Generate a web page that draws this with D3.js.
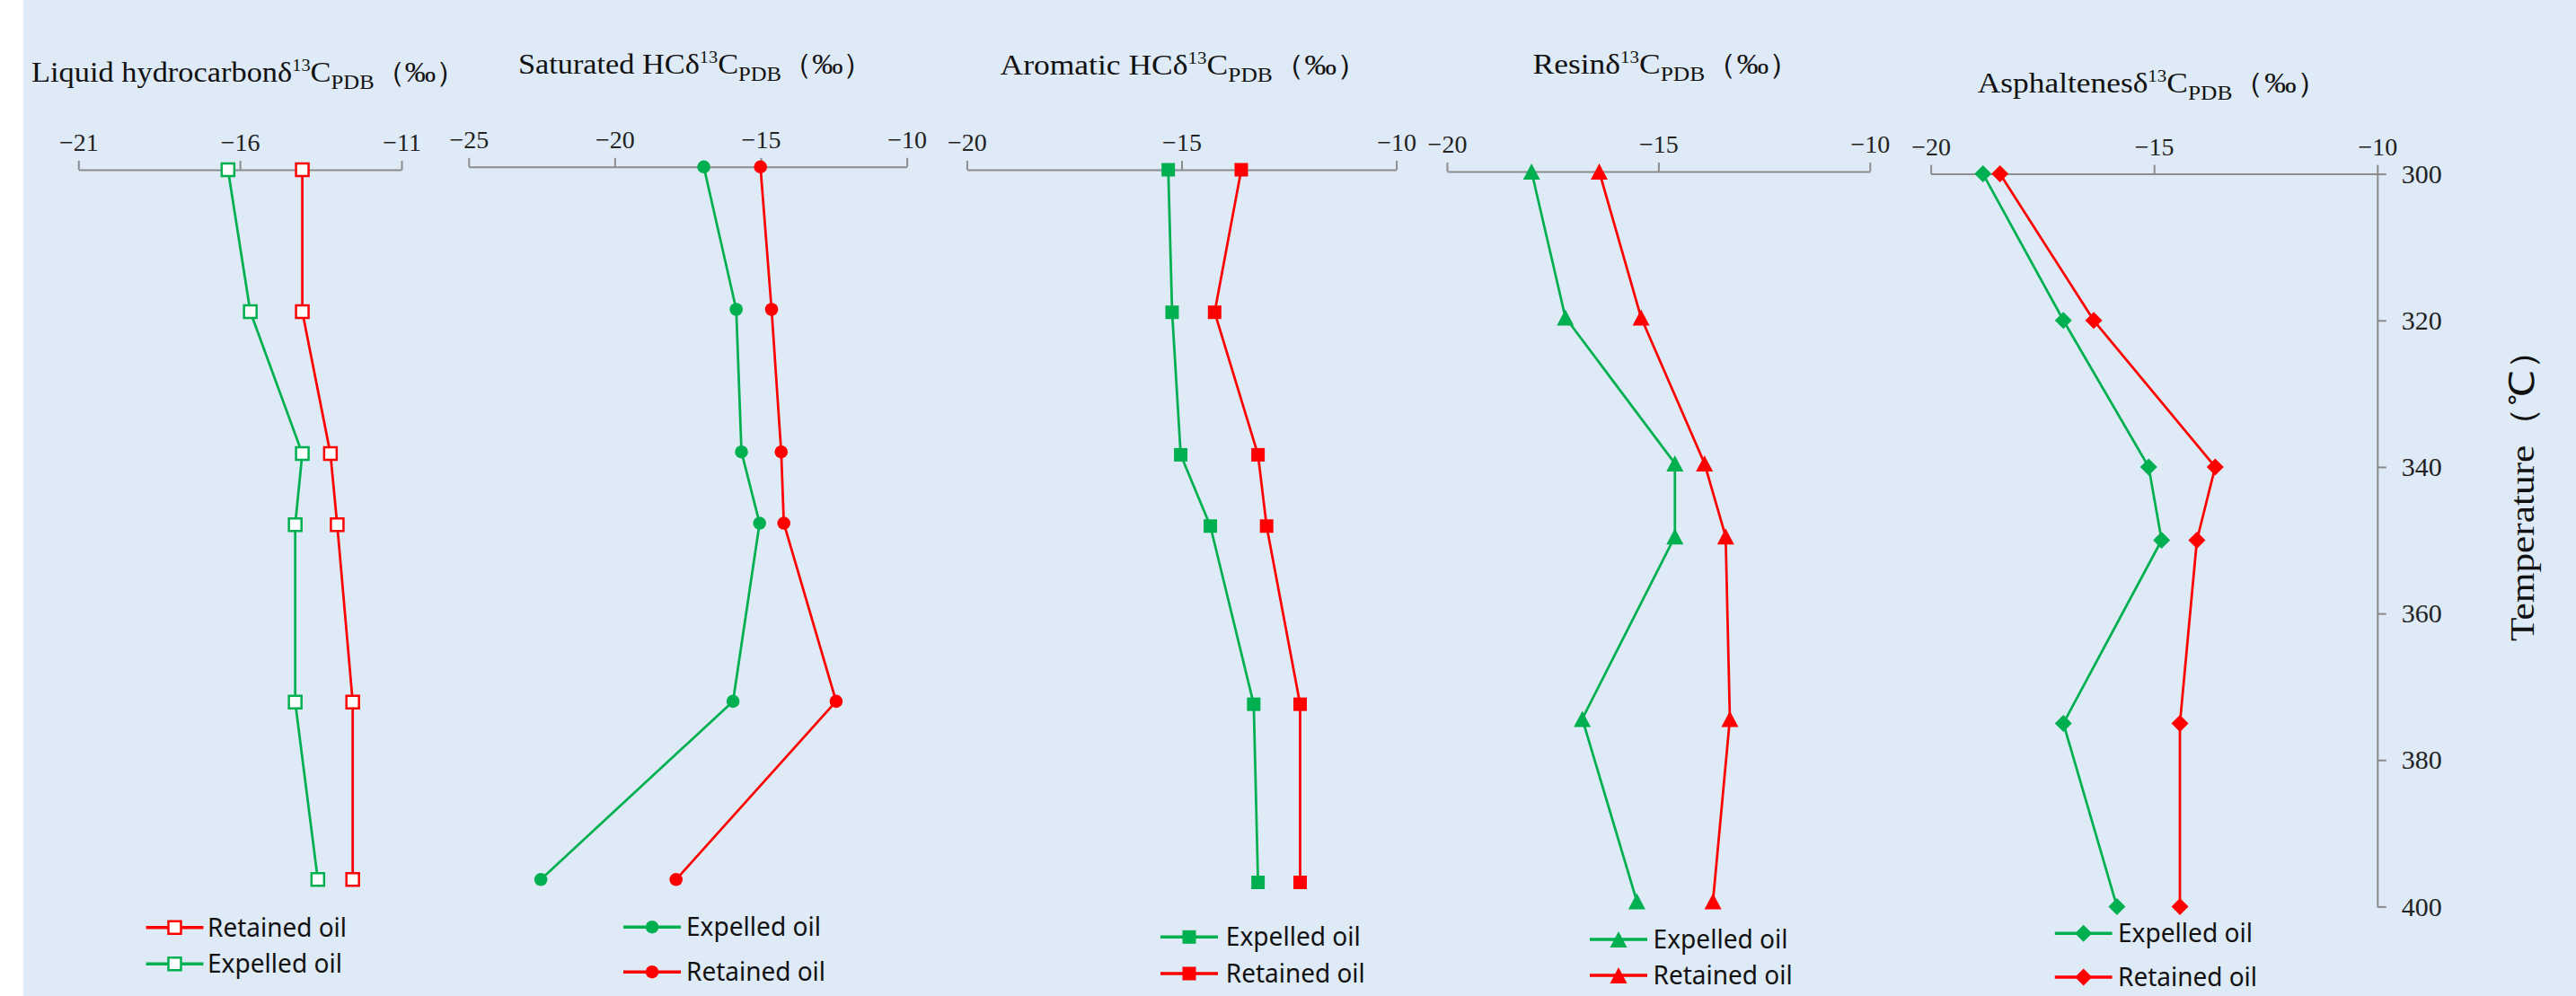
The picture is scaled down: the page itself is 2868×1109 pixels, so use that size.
<!DOCTYPE html>
<html lang="en">
<head>
    <meta charset="UTF-8">
    <title>δ13C of fractions vs temperature</title>
    <script src="https://cdn.jsdelivr.net/npm/d3@7"></script>
    <style>
        body { margin: 0; background: #fff; }
        svg { display: block; }
        .title { font-family: "Liberation Serif", "Times New Roman", serif; fill: #111; }
        .legend-label { font-family: "Noto Sans", "Open Sans", sans-serif; fill: #111; }
    </style>
</head>
<body>
<svg id="chart" width="2868" height="1109"></svg>
<script>
    // temperatures of the pyrolysis steps (°C)
    const temps = [300, 320, 340, 350, 375, 400];
    const tempTicks = [300, 320, 340, 360, 380, 400];

    // δ13C values (‰)
    const liquidRetained    = [-14.07, -14.07, -13.20, -12.99, -12.51, -12.51];
    const liquidExpelled    = [-16.37, -15.68, -14.07, -14.29, -14.29, -13.59];
    const saturatedExpelled = [-16.95, -15.84, -15.66, -15.04, -15.95, -22.53];
    const saturatedRetained = [-15.01, -14.63, -14.30, -14.21, -12.42, -17.90];
    const aromaticExpelled  = [-15.31, -15.22, -15.02, -14.33, -13.32, -13.22];
    const aromaticRetained  = [-13.61, -14.23, -13.22, -13.02, -12.24, -12.24];
    const resinExpelled     = [-18.00, -17.20, -14.61, -14.61, -16.80, -15.51];
    const resinRetained     = [-16.40, -15.41, -13.91, -13.41, -13.31, -13.71];
    const asphExpelled      = [-18.83, -17.03, -15.12, -14.83, -17.03, -15.83];
    const asphRetained      = [-18.45, -16.35, -13.63, -14.04, -14.42, -14.42];

    const xTicksLiquid = [-21, -16, -11];
    const xTicksSat = [-25, -20, -15, -10];
    const xTicksOther = [-20, -15, -10];

    const titleNames = ["Liquid hydrocarbon", "Saturated HC", "Aromatic HC", "Resin", "Asphaltenes"];
    const seriesNames = ["Expelled oil", "Retained oil"];

    const green = "#00B050", red = "#FF0000", axisColor = "#8C8C8C";

    // one Excel-style chart per fraction, each with its own plot box
    const panels = [
        { name: titleNames[0], domain: [-21, -11], ticks: xTicksLiquid, xr: [87.3, 447], yr: [189, 979.3],
          marker: "openSquare",
          series: [{ label: seriesNames[1], color: red, values: liquidRetained },
                   { label: seriesNames[0], color: green, values: liquidExpelled }],
          title: { x: 35, y: 91, w: 485 },
          legend: { x0: 162.6, x1: 226.4, tx: 231, ys: [1032.7, 1073.3] } },
        { name: titleNames[1], domain: [-25, -10], ticks: xTicksSat, xr: [521.8, 1009.6], yr: [185.8, 979.3],
          marker: "circle",
          series: [{ label: seriesNames[0], color: green, values: saturatedExpelled },
                   { label: seriesNames[1], color: red, values: saturatedRetained }],
          title: { x: 577, y: 82, w: 396 },
          legend: { x0: 694, x1: 758, tx: 764, ys: [1032.2, 1082.2] } },
        { name: titleNames[2], domain: [-20, -10], ticks: xTicksOther, xr: [1076.4, 1554.6], yr: [189, 982.5],
          marker: "square",
          series: [{ label: seriesNames[0], color: green, values: aromaticExpelled },
                   { label: seriesNames[1], color: red, values: aromaticRetained }],
          title: { x: 1113.5, y: 83, w: 410 },
          legend: { x0: 1292, x1: 1356, tx: 1364.8, ys: [1043.3, 1084] } },
        { name: titleNames[3], domain: [-20, -10], ticks: xTicksOther, xr: [1611, 2081.8], yr: [191, 1003.6],
          marker: "triangle",
          series: [{ label: seriesNames[0], color: green, values: resinExpelled },
                   { label: seriesNames[1], color: red, values: resinRetained }],
          title: { x: 1706.6, y: 82, w: 298 },
          legend: { x0: 1770, x1: 1834, tx: 1840.6, ys: [1046, 1086] } },
        { name: titleNames[4], domain: [-20, -10], ticks: xTicksOther, xr: [2149.6, 2646.8], yr: [193.6, 1009.4],
          marker: "diamond",
          series: [{ label: seriesNames[0], color: green, values: asphExpelled },
                   { label: seriesNames[1], color: red, values: asphRetained }],
          title: { x: 2201.7, y: 103, w: 390 },
          legend: { x0: 2287.8, x1: 2351.6, tx: 2358, ys: [1039.3, 1088] } }
    ];

    const svg = d3.select("#chart");

    // page background (white strip on the far left)
    svg.append("rect")
        .attr("x", 26).attr("y", 0)
        .attr("width", 2868 - 26).attr("height", 1109)
        .attr("fill", "#DEEAF6");

    function markerPath(type) {
        if (type === "openSquare") return d3.symbol(d3.symbolSquare, 14 * 14)();
        if (type === "circle") return d3.symbol(d3.symbolCircle, Math.PI * 7.3 * 7.3)();
        if (type === "square") return d3.symbol(d3.symbolSquare, 15 * 15)();
        if (type === "triangle") return "M0,-9L9.5,9L-9.5,9Z";
        return "M0,-9.5L9.5,0L0,9.5L-9.5,0Z"; // diamond
    }

    function drawMarker(sel, type, color) {
        sel.append("path")
            .attr("d", markerPath(type))
            .attr("fill", type === "openSquare" ? "#fff" : color)
            .attr("stroke", color)
            .attr("stroke-width", type === "openSquare" ? 2.5 : 0);
    }

    panels.forEach(p => {
        const x = d3.scaleLinear().domain(p.domain).range(p.xr);
        const y = d3.scaleLinear().domain([300, 400]).range(p.yr);
        const g = svg.append("g");

        // top value axis
        const ax = g.append("g")
            .attr("transform", `translate(0,${p.yr[0]})`)
            .call(d3.axisTop(x).tickValues(p.ticks).tickSize(10).tickSizeOuter(0).tickPadding(11))
            .attr("font-family", "'Liberation Serif', 'Times New Roman', serif")
            .attr("font-size", 28);
        ax.select(".domain").attr("stroke", axisColor).attr("stroke-width", 2);
        ax.selectAll(".tick line").attr("stroke", axisColor).attr("stroke-width", 2);
        ax.selectAll(".tick text").attr("fill", "#222");

        // series
        const line = d3.line().x(d => x(d.v)).y(d => y(d.t));
        p.series.forEach(s => {
            const pts = temps.map((t, i) => ({ t: t, v: s.values[i] }));
            g.append("path")
                .datum(pts)
                .attr("d", line)
                .attr("fill", "none")
                .attr("stroke", s.color)
                .attr("stroke-width", 2.75)
                .attr("stroke-linejoin", "round");
            g.selectAll(null)
                .data(pts)
                .enter().append("g")
                .attr("transform", d => `translate(${x(d.v)},${y(d.t)})`)
                .each(function() { drawMarker(d3.select(this), p.marker, s.color); });
        });

        // title: name + δ13C(PDB)(‰), squeezed to the width seen in the figure
        const tg = g.append("g");
        const tt = tg.append("text").attr("class", "title").attr("font-size", 32);
        tt.append("tspan").text(p.name + "δ");
        tt.append("tspan").attr("font-size", 19).attr("dy", -12).text("13");
        tt.append("tspan").attr("dy", 12).text("C");
        tt.append("tspan").attr("font-size", 23).attr("dy", 8).text("PDB");
        tt.append("tspan").attr("dy", -8).text("（‰）");
        const bw = tt.node().getBBox().width;
        tg.attr("transform", `translate(${p.title.x},${p.title.y}) scale(${p.title.w / bw},1)`);

        // legend
        p.series.forEach((s, i) => {
            const ly = p.legend.ys[i];
            const lg = g.append("g");
            lg.append("line")
                .attr("x1", p.legend.x0).attr("x2", p.legend.x1)
                .attr("y1", ly).attr("y2", ly)
                .attr("stroke", s.color).attr("stroke-width", 3.5);
            const mg = lg.append("g")
                .attr("transform", `translate(${(p.legend.x0 + p.legend.x1) / 2},${ly})`);
            drawMarker(mg, p.marker, s.color);
            lg.append("text")
                .attr("class", "legend-label")
                .attr("x", p.legend.tx)
                .attr("y", ly + 10)
                .attr("font-size", 29)
                .attr("textLength", s.label === "Retained oil" ? 155 : 150)
                .attr("lengthAdjust", "spacingAndGlyphs")
                .text(s.label);
        });

        // temperature axis belongs to the last chart
        if (p === panels[panels.length - 1]) {
            const ay = g.append("g")
                .attr("transform", `translate(${p.xr[1]},0)`)
                .call(d3.axisRight(y).tickValues(tempTicks).tickSize(10).tickSizeOuter(0).tickPadding(17))
                .attr("font-family", "'Liberation Serif', 'Times New Roman', serif")
                .attr("font-size", 30);
            ay.select(".domain").attr("stroke", axisColor).attr("stroke-width", 2);
            ay.selectAll(".tick line").attr("stroke", axisColor).attr("stroke-width", 2);
            ay.selectAll(".tick text").attr("fill", "#222");

            const lab = g.append("g");
            const lt = lab.append("text")
                .attr("class", "title")
                .attr("font-size", 38)
                .attr("text-anchor", "middle")
                .text("Temperature（℃）");
            const lw = lt.node().getBBox().width;
            lab.attr("transform", `translate(2821,541) rotate(-90) scale(${345 / lw},1)`);
        }
    });
</script>
</body>
</html>
